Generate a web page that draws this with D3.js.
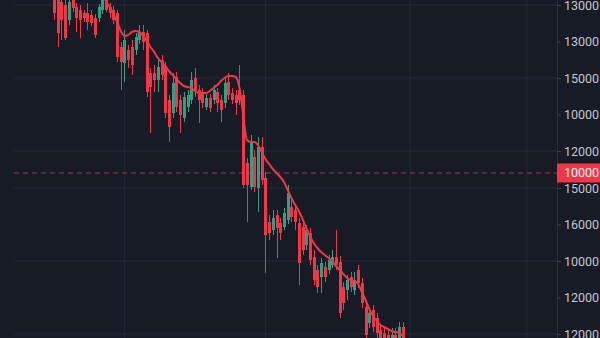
<!DOCTYPE html>
<html>
<head>
<meta charset="utf-8">
<script src="https://cdn.jsdelivr.net/npm/d3@7"></script>
<style>
  html, body { margin: 0; padding: 0; background: #171b26; }
  #chart-wrapper { width: 600px; height: 338px; }
  text { font-family: Roboto, "Noto Sans", sans-serif; }
</style>
</head>
<body>
<div id="chart-wrapper"></div>
<script>
// candle data (price index units), one entry per session
const opens  = [348,343,336,333,318,338,331,328,325,325,323,320,320,328,338,331,328,325,291,275,
                288,291,288,298,306,305,265,265,258,278,271,238,225,261,238,220,231,238,260,248,
                245,231,240,238,246,238,235,256,245,243,248,243,175,151,181,150,191,160,116,108,
                123,115,111,118,131,128,115,111,93,105,81,68,61,71,68,73,81,76,51,48,
                61,48,68,55,31,15,28,20,8,5,3,-7,3,-2,11];
const highs  = [353,348,343,338,343,341,335,333,328,335,328,324,334,342,342,335,332,328,296,308,
                293,298,305,313,313,308,270,273,281,283,276,243,265,266,243,246,248,266,270,253,
                250,246,244,253,250,243,260,265,250,248,273,248,180,203,188,201,201,166,123,128,
                128,120,130,153,138,133,120,116,113,110,88,73,80,76,83,88,108,82,56,63,
                66,66,73,60,36,30,33,25,13,10,8,10,10,16,16];
const lows   = [318,291,298,298,313,326,306,300,316,308,312,300,316,324,326,320,314,276,248,256,
                270,263,283,294,288,241,205,246,246,258,220,196,220,226,205,216,226,234,241,215,
                230,228,226,234,226,216,230,238,234,223,233,150,116,148,146,126,153,65,98,103,
                80,98,108,114,116,108,53,83,88,73,53,45,45,56,64,70,68,20,28,38,
                46,43,50,30,-2,10,6,-2,-12,-12,-12,-12,-12,-12,-12];
const closes = [325,305,318,300,336,330,320,318,320,316,315,303,331,338,328,325,318,281,276,298,
                278,273,301,306,296,246,251,258,271,263,225,211,255,231,223,241,243,258,246,238,
                235,240,230,248,235,228,255,243,238,235,238,153,153,195,151,191,158,103,105,120,
                110,105,125,145,121,116,75,88,108,78,58,51,75,61,78,81,73,25,35,58,
                51,58,55,35,3,25,11,5,-7,-7,-7,3,-7,11,-7];
// moving average, starts at session 12
const maStart = 12;
const maValues = [350,343,337,331,324,316,307,302,303,306,307,306,302,297,291,286,280,276,272,267,
                  263,259,255,252,251,250,247,245,245,245,247,250,253,257,260,262,262,261,250,223,
                  198,196,196,193,186,179,174,169,165,161,156,148,140,133,127,119,110,102,95,90,
                  86,83,80,77,72,68,64,60,58,57,54,46,38,29,22,17,13,11,9,7,6,5,2];

// price axis (labels as printed on the chart)
const tickValues = [333, 296.5, 260, 223.5, 187, 150, 113.5, 77, 40.5, 4];
const tickLabels = ["13000","13000","15000","10000","12000","15000","16000","10000","12000","12000"];
const gridTicks = [0, 2, 4, 5, 7, 9];
const timeGrid = [19, 57, 96, 127.5];
const lastValue = 165;
const lastLabel = "10000";

const width = 600, height = 338;
const plotLeft = 14, plotRight = 557;

const upColor = "#2f9f85";
const downColor = "#f23645";

const yScale = d3.scaleLinear().domain([0, 338]).range([338, 0]);
const xScale = d3.scaleLinear().domain([0, opens.length - 1]).range([54, 402.7]);

const svg = d3.select("#chart-wrapper")
  .append("svg")
  .attr("width", width)
  .attr("height", height);

svg.append("rect")
  .attr("width", width)
  .attr("height", height)
  .attr("fill", "#171b26");

svg.append("clipPath").attr("id", "plot-clip")
  .append("rect")
  .attr("x", plotLeft).attr("y", 0)
  .attr("width", plotRight - plotLeft).attr("height", height);

// grid
const grid = svg.append("g").classed("grid", true);
grid.selectAll("line.h")
  .data(gridTicks)
  .join("line")
  .attr("class", "h")
  .attr("x1", plotLeft)
  .attr("x2", plotRight)
  .attr("y1", d => yScale(tickValues[d]))
  .attr("y2", d => yScale(tickValues[d]))
  .attr("stroke", "#262b38")
  .attr("stroke-width", 1);
grid.selectAll("line.v")
  .data(timeGrid)
  .join("line")
  .attr("class", "v")
  .attr("x1", d => xScale(d))
  .attr("x2", d => xScale(d))
  .attr("y1", 0)
  .attr("y2", height)
  .attr("stroke", "#232835")
  .attr("stroke-width", 1);

const plot = svg.append("g").attr("clip-path", "url(#plot-clip)");

// last price dashed line
plot.append("line")
  .attr("x1", plotLeft)
  .attr("x2", plotRight)
  .attr("y1", yScale(lastValue))
  .attr("y2", yScale(lastValue))
  .attr("stroke", "#9a3a4c")
  .attr("stroke-width", 1)
  .attr("stroke-dasharray", "5,4");

// candles
const candleData = opens.map((o, i) => ({
  i, open: o, high: highs[i], low: lows[i], close: closes[i]
}));
const bodyWidth = 3;
const candles = plot.append("g").classed("candles", true)
  .selectAll("g")
  .data(candleData)
  .join("g");

candles.append("line")
  .attr("x1", d => Math.round(xScale(d.i)) + 0.5)
  .attr("x2", d => Math.round(xScale(d.i)) + 0.5)
  .attr("y1", d => yScale(d.high))
  .attr("y2", d => yScale(d.low))
  .attr("stroke", d => d.close >= d.open ? upColor : downColor)
  .attr("stroke-width", 1);

candles.append("rect")
  .attr("x", d => Math.round(xScale(d.i)) + 0.5 - bodyWidth / 2)
  .attr("width", bodyWidth)
  .attr("y", d => yScale(Math.max(d.open, d.close)))
  .attr("height", d => Math.max(1, Math.abs(yScale(d.open) - yScale(d.close))))
  .attr("fill", d => d.close >= d.open ? upColor : downColor);

// moving average
const maLine = d3.line()
  .x((d, k) => xScale(maStart + k))
  .y(d => yScale(d))
  .curve(d3.curveMonotoneX);

plot.append("path")
  .datum(maValues)
  .attr("d", maLine)
  .attr("fill", "none")
  .attr("stroke", "#f23645")
  .attr("stroke-width", 2);

// price axis
const axisG = svg.append("g")
  .attr("transform", `translate(${plotRight},0)`);
axisG.append("line")
  .attr("x1", 0.5).attr("x2", 0.5)
  .attr("y1", 0).attr("y2", height)
  .attr("stroke", "#2a2f3c");

const yAxis = d3.axisRight(yScale)
  .tickValues(tickValues)
  .tickFormat((d, k) => tickLabels[k])
  .tickSize(4)
  .tickPadding(3);
axisG.call(yAxis);
axisG.select(".domain").remove();
axisG.selectAll(".tick line").attr("stroke", "#3a3f4c");
axisG.selectAll(".tick text")
  .attr("fill", "#c3c6cf")
  .attr("font-size", 12.5)
  .attr("font-family", "Roboto, 'Noto Sans', sans-serif");

// last price label
const lastY = yScale(lastValue);
axisG.append("rect")
  .attr("x", 0)
  .attr("y", lastY - 9.5)
  .attr("width", width - plotRight)
  .attr("height", 19)
  .attr("fill", "#f23645");
axisG.append("text")
  .attr("x", 7)
  .attr("y", lastY)
  .attr("dy", "0.35em")
  .attr("fill", "#ffffff")
  .attr("font-size", 12.5)
  .text(lastLabel);
</script>
</body>
</html>
